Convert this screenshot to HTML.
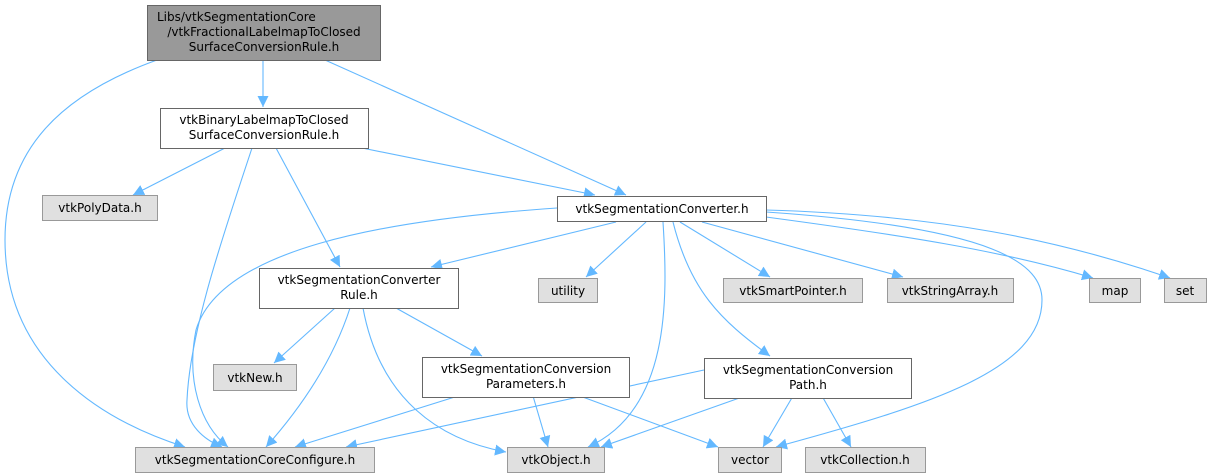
<!DOCTYPE html>
<html><head><meta charset="utf-8"><style>
html,body{margin:0;padding:0;background:#fff;width:1212px;height:476px;overflow:hidden}
text{font-family:"DejaVu Sans","Liberation Sans",sans-serif;font-size:12px;fill:#000}
</style></head><body>
<svg width="1212" height="476" viewBox="0 0 1212 476" xmlns="http://www.w3.org/2000/svg">
<defs><marker id="a" markerWidth="12" markerHeight="12" refX="11" refY="5.5" orient="auto" markerUnits="userSpaceOnUse"><path d="M0,0 L11,5.5 L0,11 z" fill="#63b8ff"/></marker></defs>
<g fill="none" stroke="#63b8ff" stroke-width="1.1" marker-end="url(#a)">
<path d="M157,60 C60,95 5,150 5,240 C5,360 100,420 185,447"/>
<path d="M263,60 L263,107"/>
<path d="M325,60 L626,195"/>
<path d="M225,148 L133,195"/>
<path d="M252,148 C225,230 190,330 187,400 C185,425 205,440 222,447"/>
<path d="M276,148 L340,267"/>
<path d="M362,148 L595,195"/>
<path d="M557,208 C380,220 220,250 196,330 C186,380 200,425 228,447"/>
<path d="M616,222 L431,267"/>
<path d="M646,222 L586,277"/>
<path d="M663,222 C668,300 670,410 588,447"/>
<path d="M673,222 C690,290 720,320 770,356"/>
<path d="M680,222 L770,277"/>
<path d="M702,222 L903,277"/>
<path d="M766,217 C900,235 1000,250 1093,278"/>
<path d="M766,210 C940,215 1060,240 1170,278"/>
<path d="M766,212 C1000,228 1042,265 1042,300 C1042,370 930,405 776,447"/>
<path d="M335,308 L274,363"/>
<path d="M350,308 C330,370 290,420 266,447"/>
<path d="M363,308 C380,400 440,440 506,452"/>
<path d="M396,308 L482,356"/>
<path d="M458,396 L295,447"/>
<path d="M533,396 L548,447"/>
<path d="M580,396 L718,447"/>
<path d="M704,370 L346,447"/>
<path d="M745,396 L601,447"/>
<path d="M793,396 L763,447"/>
<path d="M822,396 L851,447"/>
</g>
<g stroke-width="1">
<rect x="147.5" y="5.5" width="233" height="55" fill="#999" stroke="#666"/>
<rect x="160.5" y="108.5" width="208" height="40" fill="#fff" stroke="#666"/>
<rect x="42.5" y="195.5" width="115" height="25" fill="#e0e0e0" stroke="#999"/>
<rect x="557.5" y="196.5" width="209" height="25" fill="#fff" stroke="#666"/>
<rect x="259.5" y="268.5" width="199" height="40" fill="#fff" stroke="#666"/>
<rect x="538.5" y="278.5" width="59" height="24" fill="#e0e0e0" stroke="#999"/>
<rect x="723.5" y="278.5" width="139" height="24" fill="#e0e0e0" stroke="#999"/>
<rect x="887.5" y="278.5" width="126" height="24" fill="#e0e0e0" stroke="#999"/>
<rect x="1089.5" y="278.5" width="51" height="24" fill="#e0e0e0" stroke="#999"/>
<rect x="1164.5" y="278.5" width="42" height="24" fill="#e0e0e0" stroke="#999"/>
<rect x="213.5" y="364.5" width="83" height="26" fill="#e0e0e0" stroke="#999"/>
<rect x="422.5" y="357.5" width="207" height="40" fill="#fff" stroke="#666"/>
<rect x="704.5" y="358.5" width="207" height="40" fill="#fff" stroke="#666"/>
<rect x="135.5" y="447.5" width="239" height="25" fill="#e0e0e0" stroke="#999"/>
<rect x="507.5" y="447.5" width="97" height="25" fill="#e0e0e0" stroke="#999"/>
<rect x="718.5" y="447.5" width="63" height="25" fill="#e0e0e0" stroke="#999"/>
<rect x="805.5" y="447.5" width="120" height="25" fill="#e0e0e0" stroke="#999"/>
</g>
<text x="157" y="21">Libs/vtkSegmentationCore</text>
<text x="264" y="36" text-anchor="middle">/vtkFractionalLabelmapToClosed</text>
<text x="264" y="51" text-anchor="middle">SurfaceConversionRule.h</text>
<text x="264" y="124" text-anchor="middle">vtkBinaryLabelmapToClosed</text>
<text x="264" y="139" text-anchor="middle">SurfaceConversionRule.h</text>
<text x="100" y="212" text-anchor="middle">vtkPolyData.h</text>
<text x="662" y="213" text-anchor="middle">vtkSegmentationConverter.h</text>
<text x="359" y="284" text-anchor="middle">vtkSegmentationConverter</text>
<text x="359" y="299" text-anchor="middle">Rule.h</text>
<text x="568" y="295" text-anchor="middle">utility</text>
<text x="793" y="295" text-anchor="middle">vtkSmartPointer.h</text>
<text x="950" y="295" text-anchor="middle">vtkStringArray.h</text>
<text x="1115" y="295" text-anchor="middle">map</text>
<text x="1185" y="295" text-anchor="middle">set</text>
<text x="255" y="382" text-anchor="middle">vtkNew.h</text>
<text x="526" y="373" text-anchor="middle">vtkSegmentationConversion</text>
<text x="526" y="388" text-anchor="middle">Parameters.h</text>
<text x="808" y="374" text-anchor="middle">vtkSegmentationConversion</text>
<text x="808" y="389" text-anchor="middle">Path.h</text>
<text x="255" y="464" text-anchor="middle">vtkSegmentationCoreConfigure.h</text>
<text x="556" y="464" text-anchor="middle">vtkObject.h</text>
<text x="750" y="464" text-anchor="middle">vector</text>
<text x="865" y="464" text-anchor="middle">vtkCollection.h</text>
</svg>
</body></html>
